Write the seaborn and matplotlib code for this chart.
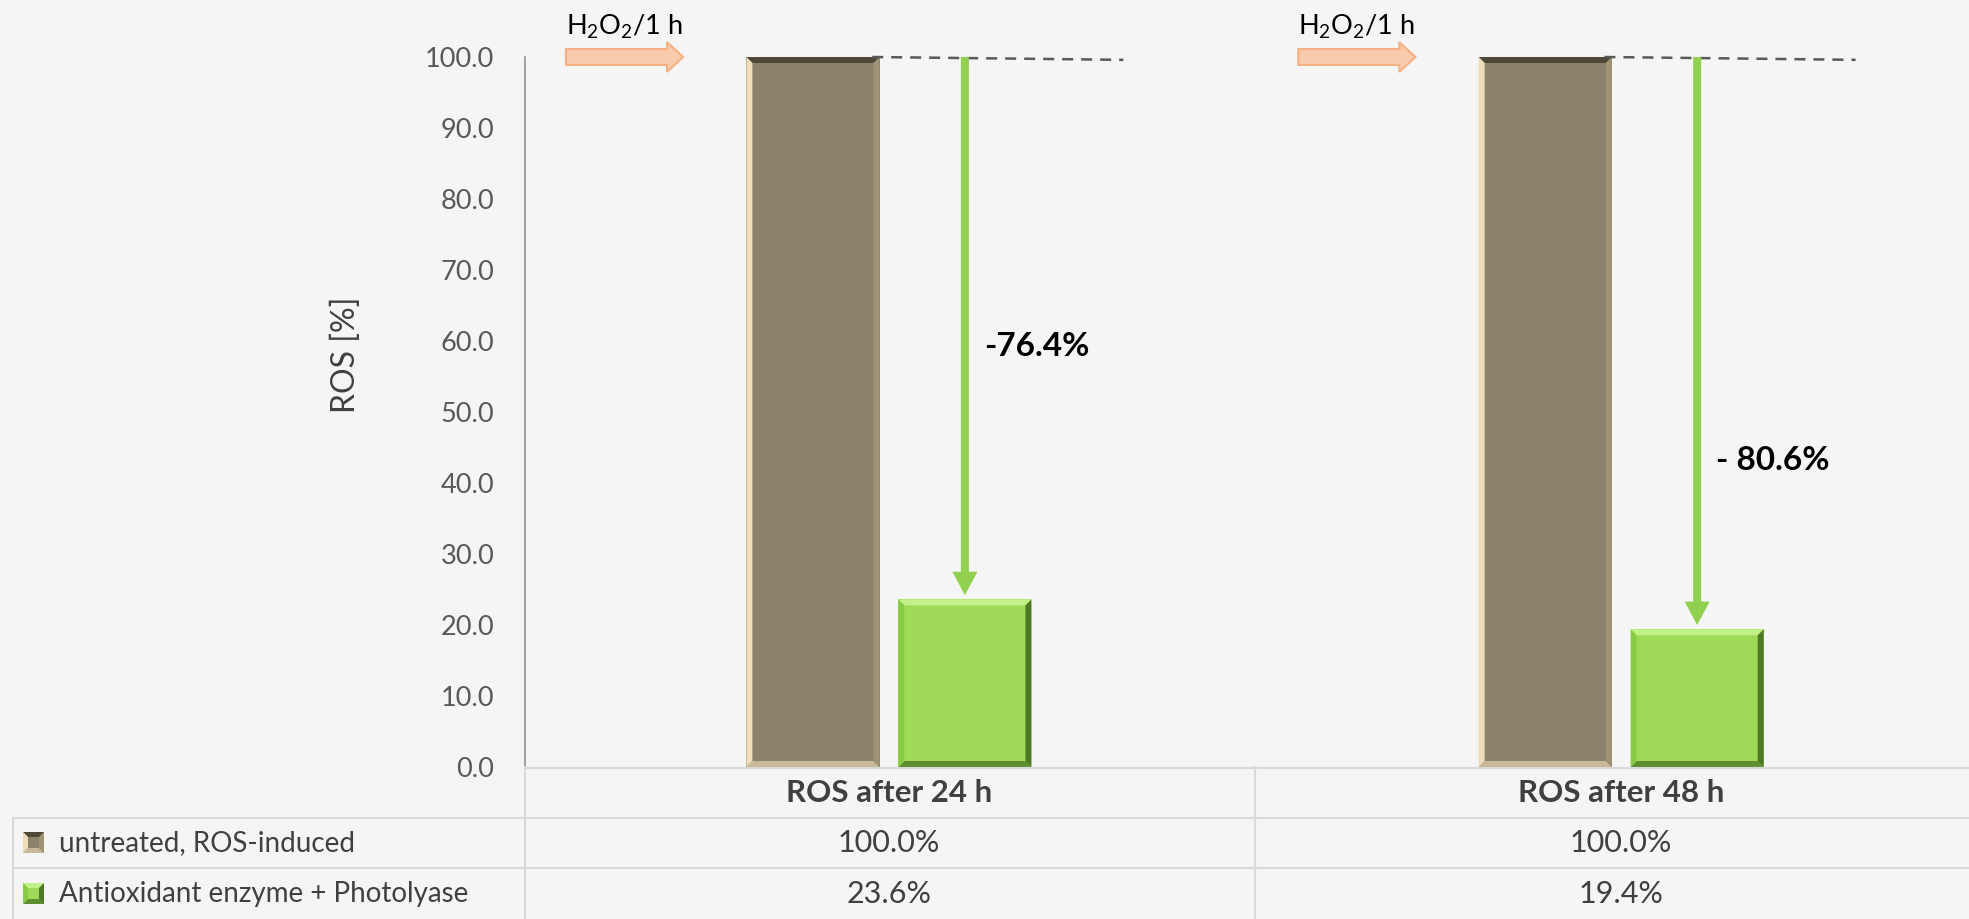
import numpy as np
import pandas as pd
import matplotlib
matplotlib.use("Agg")
import matplotlib.pyplot as plt
import matplotlib.patches as mpatches
import matplotlib.transforms as mtransforms
from matplotlib.lines import Line2D
import seaborn as sns

# data
timepoints = ["ROS after 24 h", "ROS after 48 h"]
treatments = ["untreated, ROS-induced", "Antioxidant enzyme + Photolyase"]
untreated = [100.0, 100.0]
treated = [23.6, 19.4]
reductions = ["-76.4%", "- 80.6%"]
stimulus = r"H$_\mathregular{2}$O$_\mathregular{2}$/1 h"

# layout (pixels of the 1969x919 canvas)
W, H = 1969, 919
BG = "#F5F5F5"
GRID = "#D9D9D9"
TXT = "#404040"
colors = ["#8A826B", "#9FDB58"]
bevel_cols = [
    # top, bottom, left, right
    ["#4D4838", "#C8B999", "#EEDDB9", "#9E9273"],
    ["#C2F189", "#5F8F30", "#8ACB45", "#4E7A26"],
]
label_y = [59.2, 43.2]

sns.set_style("white")
plt.rcParams["font.family"] = ["Lato", "DejaVu Sans"]
plt.rcParams["mathtext.fontset"] = "custom"
plt.rcParams["mathtext.rm"] = "Lato"

df = pd.DataFrame({
    "time": np.repeat(timepoints, 2),
    "group": treatments * 2,
    "value": [v for pair in zip(untreated, treated) for v in pair],
})

fig = plt.figure(figsize=(W / 100, H / 100), dpi=100, facecolor=BG)
ax = fig.add_axes([525 / W, 1 - 767 / H, 1444 / W, 710 / H])
ax.set_facecolor(BG)

sns.barplot(data=df, x="time", y="value", hue="group", hue_order=treatments,
            palette=colors, width=0.415, gap=0.124, saturation=1,
            edgecolor="none", legend=False, ax=ax)

ax.set_xlim(-0.497, 1.475)
ax.set_ylim(0, 100)
ax.set_yticks(np.arange(0, 101, 10))
ax.set_yticklabels([f"{t:.1f}" for t in np.arange(0, 101, 10)])
ax.tick_params(axis="y", length=7.2, width=1.1, color="#898989", pad=15,
               labelsize=19.5, labelcolor="#595959")
ax.tick_params(axis="x", length=0, labelbottom=False)
ax.set_xlabel("")
ax.set_ylabel("")
for s in ["top", "right", "bottom"]:
    ax.spines[s].set_visible(False)
ax.spines["left"].set_color("#898989")
ax.spines["left"].set_linewidth(1.1)

# bevel edges on the bars
bx, by = 6 / 732, 6 / 7.1
bars = sorted(ax.patches, key=lambda p: p.get_x())
for k, p in enumerate(bars):
    x0, w, h = p.get_x(), p.get_width(), p.get_height()
    cols = bevel_cols[k % 2]
    polys = [
        [(x0, h), (x0 + w, h), (x0 + w - bx, h - by), (x0 + bx, h - by)],
        [(x0, 0), (x0 + w, 0), (x0 + w - bx, by), (x0 + bx, by)],
        [(x0, 0), (x0, h), (x0 + bx, h - by), (x0 + bx, by)],
        [(x0 + w, 0), (x0 + w, h), (x0 + w - bx, h - by), (x0 + w - bx, by)],
    ]
    for poly, c in zip(polys, cols):
        ax.add_patch(mpatches.Polygon(poly, closed=True, fc=c, ec="none", zorder=3))

for i in range(len(timepoints)):
    gray = bars[2 * i]
    green = bars[2 * i + 1]
    g_right = gray.get_x() + gray.get_width()
    gx = green.get_x() + green.get_width() / 2
    # dashed reference level
    ax.plot([g_right - 0.01, g_right + 0.333], [untreated[i], untreated[i] - 0.4],
            color="#595959", lw=1.8, ls=(0, (4.4, 3.2)), zorder=4, clip_on=False)
    # reduction arrow
    ax.arrow(gx, untreated[i], 0, -(untreated[i] - treated[i] - 0.6),
             width=8 / 732, head_width=25 / 732, head_length=3.3,
             length_includes_head=True, fc="#92D050", ec="none", zorder=5)
    ax.text(gx + 0.026, label_y[i], reductions[i], fontsize=24, fontweight="bold",
            color="black", ha="left", va="center")
    # stimulus arrow
    ax.arrow(i - 0.441, untreated[i], 0.16, 0, width=2.25, head_width=4.2,
             head_length=0.022, length_includes_head=True, fc="#F8CBAD",
             ec="#F4B183", lw=1.5, clip_on=False, zorder=5)
    ax.text(i - 0.441, 103.2, stimulus, fontsize=19.5, color="black",
            ha="left", va="baseline")

fig.text(346 / W, 1 - 355 / H, "ROS [%]", rotation=90, fontsize=23,
         color=TXT, ha="center", va="center")

# data table under the chart
def fy(px):
    return 1 - px / H

def hline(x0, x1, ypx):
    fig.add_artist(Line2D([x0 / W, x1 / W], [fy(ypx)] * 2, color=GRID, lw=1.5,
                          transform=fig.transFigure))

hline(525, W, 767.5)
hline(13, W, 818)
hline(13, W, 868)
fig.add_artist(Line2D([13 / W] * 2, [fy(818), 0], color=GRID, lw=1.5,
                      transform=fig.transFigure))
fig.add_artist(Line2D([525 / W] * 2, [fy(767), 0], color=GRID, lw=1.5,
                      transform=fig.transFigure))
blend = mtransforms.blended_transform_factory(ax.transData, fig.transFigure)
fig.add_artist(Line2D([0.5, 0.5], [fy(767), 0], color=GRID, lw=1.5,
                      transform=blend))

rows_y = [843, 894]
for i, t in enumerate(timepoints):
    fig.text(i, fy(793), t, transform=blend, fontsize=22.5, fontweight="bold",
             color=TXT, ha="center", va="center")
    fig.text(i, fy(rows_y[0]), f"{untreated[i]:.1f}%", transform=blend,
             fontsize=22, color=TXT, ha="center", va="center")
    fig.text(i, fy(rows_y[1]), f"{treated[i]:.1f}%", transform=blend,
             fontsize=22, color=TXT, ha="center", va="center")

# legend keys in the table
for k, name in enumerate(treatments):
    cy = rows_y[k]
    x0, y0, s = 23, cy + 10, 21
    cols = bevel_cols[k]
    b = 5
    fig.add_artist(mpatches.Rectangle((x0 / W, fy(y0)), s / W, s / H,
                                      fc=colors[k], ec="none",
                                      transform=fig.transFigure))
    corners = [(x0, y0 - s), (x0 + s, y0 - s), (x0 + s, y0), (x0, y0)]
    inner = [(x0 + b, y0 - s + b), (x0 + s - b, y0 - s + b),
             (x0 + s - b, y0 - b), (x0 + b, y0 - b)]
    sides = [(0, 1, cols[0]), (2, 3, cols[1]), (3, 0, cols[2]), (1, 2, cols[3])]
    for a, c, col in sides:
        pts = [corners[a], corners[c], inner[c], inner[a]]
        fig.add_artist(mpatches.Polygon([(px / W, fy(py)) for px, py in pts],
                                        closed=True, fc=col, ec="none",
                                        transform=fig.transFigure))
    fig.text(59 / W, fy(cy), name, fontsize=20, color=TXT, ha="left", va="center")

fig.savefig("out.png", dpi=100, facecolor=BG)
